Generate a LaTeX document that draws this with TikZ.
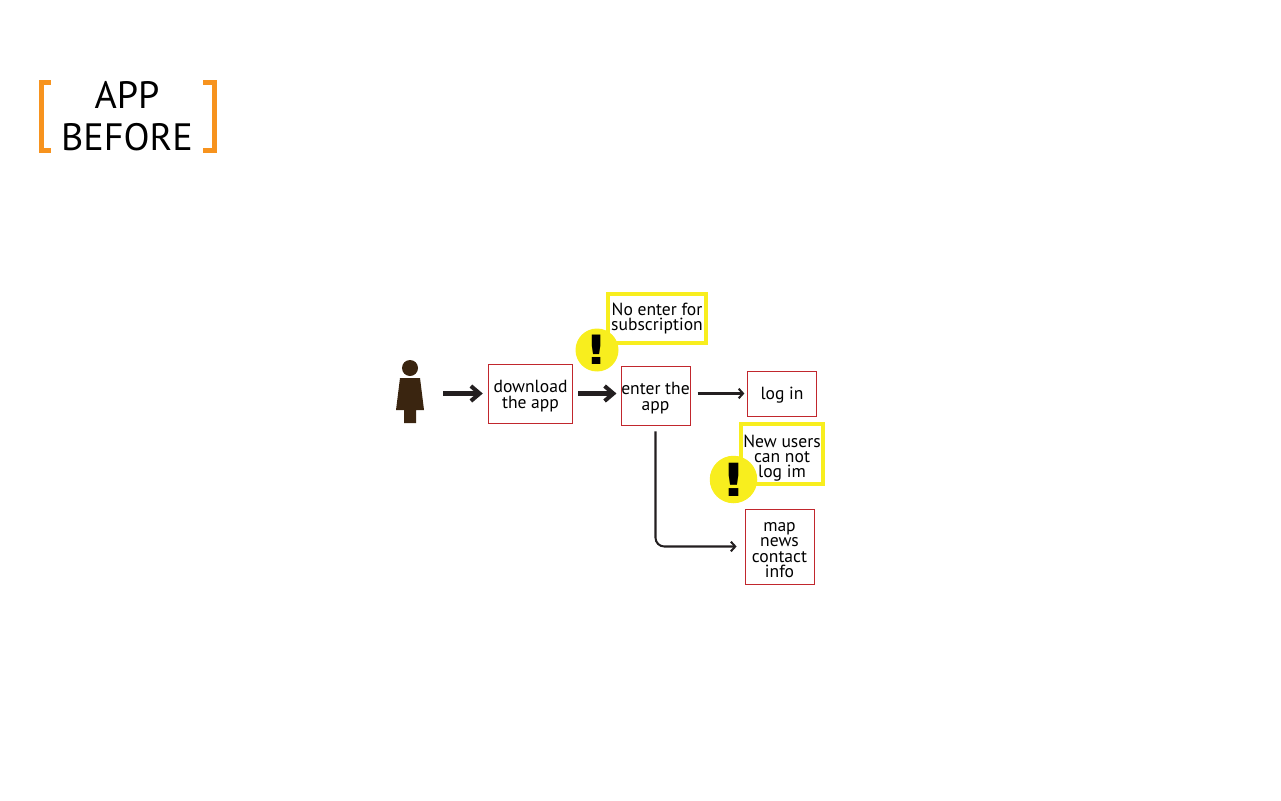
\documentclass[tikz,border=0pt]{standalone}
\usepackage{graphicx}
\usepackage{fontspec}
\setmainfont{PT Sans}
\newfontfamily\markfont{DejaVu Sans}
\usetikzlibrary{arrows.meta}
\definecolor{appred}{RGB}{193,39,45}
\definecolor{appyellow}{RGB}{248,238,30}
\definecolor{apporange}{RGB}{247,147,30}
\definecolor{appbrown}{RGB}{58,37,16}
\definecolor{appblack}{RGB}{35,31,32}
\newcommand{\apptext}[2][-3.9pt]{\makebox[0pt]{\raisebox{#1}[0pt][0pt]{\parbox[c]{2.5cm}{\centering\lineskiplimit=-10pt #2}}}}
\tikzset{
  stepbox/.style={draw=appred, line width=0.55pt, inner sep=0pt,
                  font=\fontsize{10}{8.75}\selectfont},
  notebox/.style={draw=appyellow, line width=1.9pt, fill=white, inner sep=0pt,
                  font=\fontsize{10}{8.75}\selectfont},
  warnmark/.style={circle, fill=appyellow, inner sep=0pt, font=\markfont\bfseries},
  bigflow/.style={draw=appblack, line width=2.3pt, -{Straight Barb[length=5pt,width=8.5pt]}},
  smallflow/.style={draw=appblack, line width=1.15pt, -{Straight Barb[length=2.5pt,width=5.5pt]}},
  bracket/.style={draw=apporange, line width=2.8pt},
}
\begin{document}
\begin{tikzpicture}[x=0.02cm, y=-0.02cm]
\useasboundingbox (0,0) rectangle (1281,801);
% Title with brackets
\node[align=center, inner sep=0pt, font=\fontsize{21.7}{24}\selectfont] (title) at (127,116.5) {APP\\BEFORE};
\draw[bracket] (50.5,82.3) -- (41.3,82.3) -- (41.3,150.7) -- (50.5,150.7);
\draw[bracket] (203,82.3) -- (214.7,82.3) -- (214.7,150.7) -- (203,150.7);
% Person
\node[minimum width=0.56cm, minimum height=1.2cm, inner sep=0pt] (person) at (410,393.5) {};
\fill[appbrown] (410,368) circle (8);
\fill[appbrown] (400,378) -- (420,378) -- (424,410) -- (416,410) -- (416,423) -- (404,423) -- (404,410) -- (396,410) -- cycle;
% Steps
\node[stepbox, minimum width=1.69cm, minimum height=1.18cm] (download) at (530.5,393.5) {\apptext{download\\the app}};
\node[stepbox, minimum width=1.38cm, minimum height=1.18cm] (enter) at (655.5,395.5) {\apptext{enter the\\app}};
\node[stepbox, minimum width=1.38cm, minimum height=0.9cm] (login) at (782,393.5) {\apptext[-3.5pt]{log in}};
\node[stepbox, minimum width=1.38cm, minimum height=1.5cm] (content) at (779.5,546.5) {\apptext[-4.6pt]{map\\news\\contact\\info}};
% Warnings
\node[notebox, minimum width=1.96cm, minimum height=0.98cm] (subnote) at (657,318.5) {\apptext[-2.5pt]{No enter for\\subscription}};
\node[warnmark, minimum size=0.86cm, font=\markfont\bfseries\fontsize{23}{23}\selectfont] (subwarn) at (597,350) {\scalebox{1.2}[1]{!}};
\node[notebox, minimum width=1.64cm, minimum height=1.2cm] (usernote) at (782,454) {\apptext[-4.8pt]{New users\\can not\\log im}};
\node[warnmark, minimum size=0.95cm, font=\markfont\bfseries\fontsize{26}{26}\selectfont] (userwarn) at (733.5,479.5) {\scalebox{1.2}[1]{!}};
% Flow
\draw[bigflow, shorten <=10.8pt, shorten >=2.85pt] (person.east) -- (download.west);
\draw[bigflow, shorten <=2.85pt, shorten >=2.3pt] (download.east) -- (download.east -| enter.west);
\draw[smallflow, shorten <=4pt, shorten >=1.5pt] (enter.east |- login) -- (login.west);
\draw[smallflow, rounded corners=5pt, shorten <=3.4pt, shorten >=4.5pt] (enter.south) |- (content.west);
\end{tikzpicture}
\end{document}
